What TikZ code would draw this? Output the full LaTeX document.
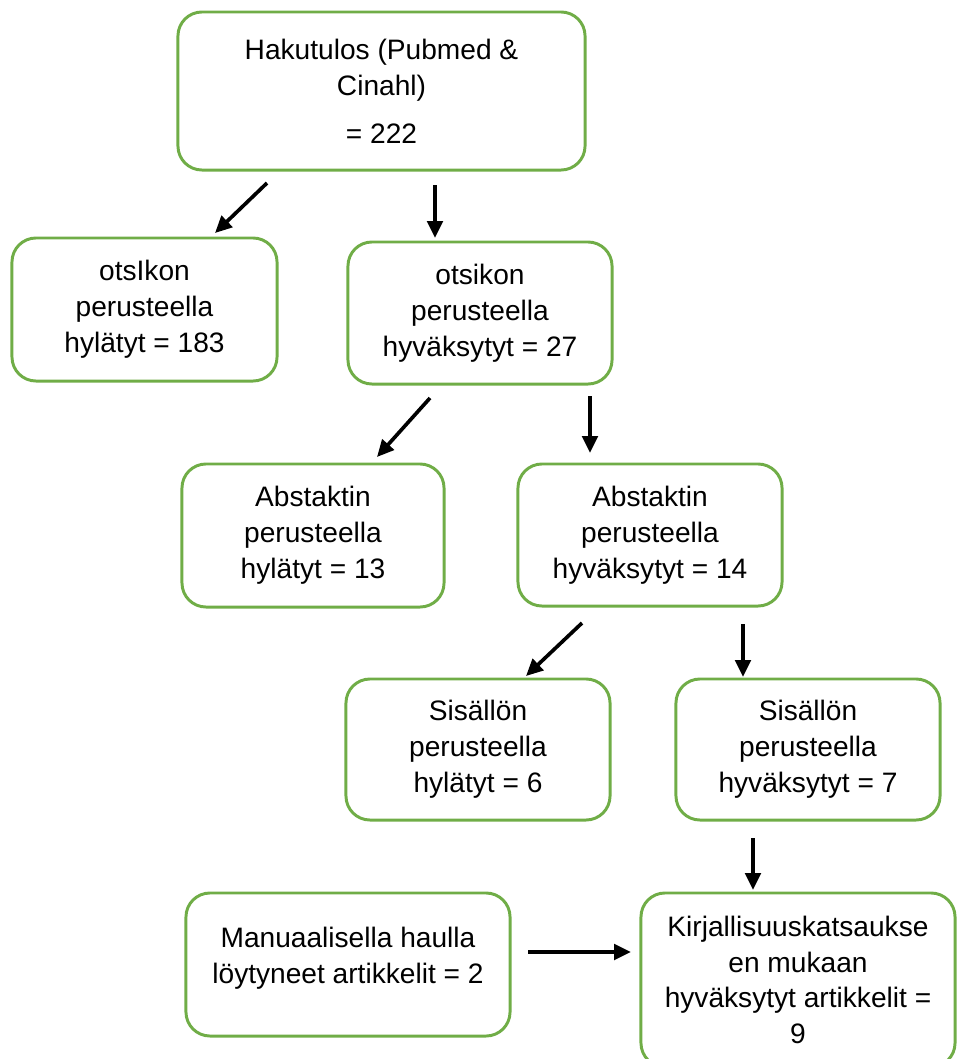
\documentclass[tikz,border=0pt]{standalone}
\usepackage{fontspec}
\setmainfont{Liberation Sans}
\usetikzlibrary{arrows.meta}

\definecolor{boxgreen}{RGB}{112,173,71}

\tikzset{
  box/.style={draw=boxgreen, line width=2.1pt, rounded corners=0.6cm,
    align=center, inner sep=0pt, font=\fontsize{20}{25.5}\selectfont},
  arr/.style={line width=2.6pt, -{Triangle[length=12pt,width=11pt]}}
}

\begin{document}
\begin{tikzpicture}[x=0.025cm, y=-0.025cm]
            \useasboundingbox (0,0) rectangle (958,1059);

            % boxes
            \node[box, minimum width=10.175cm, minimum height=3.95cm] (haku) at (381.5,91)
                {Hakutulos (Pubmed \&\\ Cinahl)\\[0.3cm] = 222};
            \node[box, minimum width=6.625cm, minimum height=3.575cm] (otsHyl) at (144.5,309.5)
                {otsIkon\\ perusteella\\ hylätyt = 183};
            \node[box, minimum width=6.6cm, minimum height=3.55cm] (otsHyv) at (480,313)
                {otsikon\\ perusteella\\ hyväksytyt = 27};
            \node[box, minimum width=6.55cm, minimum height=3.575cm] (absHyl) at (313,535.5)
                {Abstaktin\\ perusteella\\ hylätyt = 13};
            \node[box, minimum width=6.6cm, minimum height=3.55cm] (absHyv) at (650,535)
                {Abstaktin\\ perusteella\\ hyväksytyt = 14};
            \node[box, minimum width=6.6cm, minimum height=3.525cm] (sisHyl) at (478,749.5)
                {Sisällön\\ perusteella\\ hylätyt = 6};
            \node[box, minimum width=6.6cm, minimum height=3.525cm] (sisHyv) at (808,749.5)
                {Sisällön\\ perusteella\\ hyväksytyt = 7};
            \node[box, minimum width=8.1cm, minimum height=3.575cm] (manual) at (348,964.5)
                {Manuaalisella haulla\\ löytyneet artikkelit = 2\rule[-0.45cm]{0pt}{0pt}};
            \node[box, minimum width=7.85cm, minimum height=4.35cm] (kirj) at (798,980)
                {Kirjallisuuskatsaukse\\ en mukaan\\ hyväksytyt artikkelit =\\ 9};

            % arrow ends
            \coordinate (a1s) at (267,183);  \coordinate (a1e) at (215,233);
            \coordinate (a2s) at (435,185);  \coordinate (a2e) at (435,238);
            \coordinate (a3s) at (430,398);  \coordinate (a3e) at (377,457);
            \coordinate (a4s) at (590,396);  \coordinate (a4e) at (590,453);
            \coordinate (a5s) at (582,623);  \coordinate (a5e) at (526,676);
            \coordinate (a6s) at (743,624);  \coordinate (a6e) at (743,677);
            \coordinate (a7s) at (753,838);  \coordinate (a7e) at (753,890);
            \coordinate (a8s) at (528,952);  \coordinate (a8e) at (631,952);

            \draw[arr] (a1s) -- (a1e);
            \draw[arr] (a2s) -- (a2e);
            \draw[arr] (a3s) -- (a3e);
            \draw[arr] (a4s) -- (a4e);
            \draw[arr] (a5s) -- (a5e);
            \draw[arr] (a6s) -- (a6e);
            \draw[arr] (a7s) -- (a7e);
            \draw[arr] (a8s) -- (a8e);
        \end{tikzpicture}
\end{document}
